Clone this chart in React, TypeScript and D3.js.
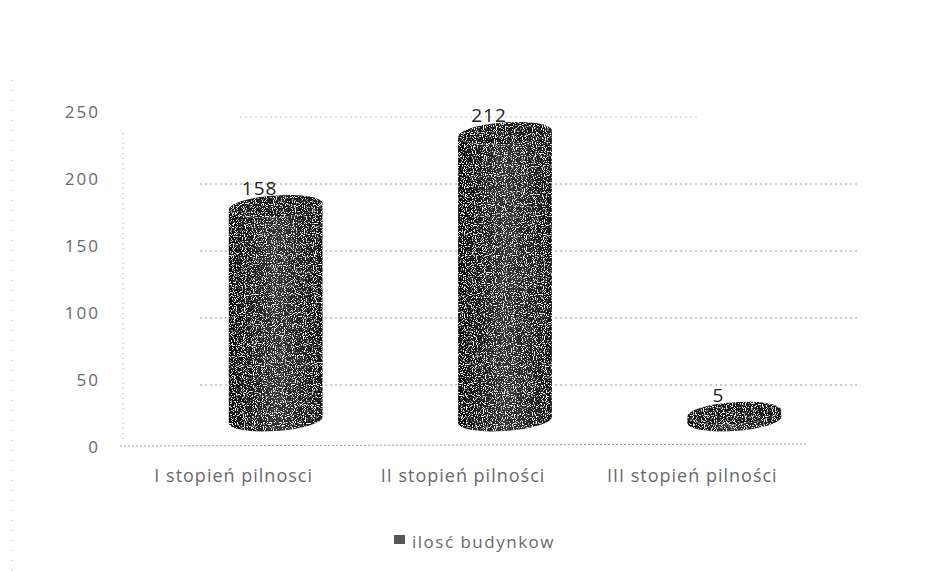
import * as d3 from "d3";

// values
const categories = ["I stopień pilnosci", "II stopień pilności", "III stopień pilności"];
const values = [158, 212, 5];
const yTicks = [0, 50, 100, 150, 200, 250];
const seriesName = "ilosć budynkow";

export default function App() {
  const width = 941;
  const height = 571;

  // back wall scale (ticks + gridlines)
  const yBack = d3.scaleLinear().domain([0, 250]).range([452, 117]);
  // front plane scale (cylinders sit in front of the wall, so they look taller)
  const yFront = d3.scaleLinear().domain([0, 250]).range([420, 82]);
  const x = d3.scaleBand().domain(categories).range([161, 849]).paddingInner(0);

  const rx = 47;
  const ry = 11;
  const tilt = -4; // ellipse tilt, degrees
  const dx = rx * Math.cos((tilt * Math.PI) / 180);
  const dy = rx * Math.sin((tilt * Math.PI) / 180);

  // upright cylinder body with slightly tilted end caps
  const body = (cx: number, yTop: number, yBot: number) =>
    `M${cx - dx},${yTop - dy} L${cx - dx},${yBot - dy} ` +
    `A${rx},${ry} ${tilt} 0 0 ${cx + dx},${yBot + dy} ` +
    `L${cx + dx},${yTop + dy} ` +
    `A${rx},${ry} ${tilt} 0 1 ${cx - dx},${yTop - dy} Z`;

  const textColor = "#6a6a6a";
  const font = "'Open Sans', 'Liberation Sans', sans-serif";

  return (
    <svg width={width} height={height} style={{ position: "absolute", left: 0, top: 0, background: "#fff" }}>
      <defs>
        <linearGradient id="body" x1="0" x2="1" y1="0" y2="0">
          <stop offset="0%" stopColor="#0a0a0a" />
          <stop offset="50%" stopColor="#363636" />
          <stop offset="100%" stopColor="#161616" />
        </linearGradient>
        <filter id="grain" x="0" y="0" width="100%" height="100%">
          <feTurbulence type="fractalNoise" baseFrequency="0.9" numOctaves="1" seed="4" result="noise" />
          <feColorMatrix
            in="noise"
            type="matrix"
            values="0 0 0 0 1  0 0 0 0 1  0 0 0 0 1  -9 0 0 0 4.1"
            result="dots"
          />
          <feComposite in="dots" in2="SourceGraphic" operator="in" result="clipped" />
          <feMerge>
            <feMergeNode in="SourceGraphic" />
            <feMergeNode in="clipped" />
          </feMerge>
        </filter>
      </defs>

      {/* scan edge on the left */}
      <line x1={12} x2={12} y1={80} y2={571} stroke="#bbb" strokeDasharray="1 9" />

      {/* gridlines on back wall */}
      {yTicks.filter(t => t > 0).map(t => (
        <line
          key={t}
          x1={t === 250 ? 240 : 200}
          x2={t === 250 ? 700 : 860}
          y1={yBack(t)}
          y2={yBack(t)}
          stroke={t === 250 ? "#c4c4c4" : "#9a9a9a"}
          strokeWidth={1}
          strokeDasharray="2 3"
        />
      ))}

      {/* left wall edge and floor */}
      <line x1={123} x2={123} y1={133} y2={442} stroke="#aaa" strokeDasharray="1 4" />
      <line x1={120} x2={808} y1={446} y2={444} stroke="#999" strokeDasharray="2 2" />

      {/* y tick labels */}
      {yTicks.map(t => (
        <text
          key={t}
          x={100}
          y={yBack(t) - 4}
          textAnchor="end"
          dominantBaseline="middle"
          fontFamily={font}
          fontSize={17}
          letterSpacing={2}
          fill={textColor}
        >
          {t}
        </text>
      ))}

      {/* cylinders */}
      {categories.map((c, i) => {
        const cx = x(c)! + x.bandwidth() / 2;
        const yTop = yFront(values[i]);
        const yBot = yFront(0);
        return (
          <g key={c} filter="url(#grain)">
            <path d={body(cx, yTop, yBot)} fill="url(#body)" />
            <ellipse
              cx={cx}
              cy={yTop}
              rx={rx}
              ry={ry}
              transform={`rotate(${tilt},${cx},${yTop})`}
              fill="#1e1e1e"
            />
          </g>
        );
      })}

      {/* data labels */}
      {categories.map((c, i) => {
        const cx = x(c)! + x.bandwidth() / 2;
        return (
          <text
            key={c}
            x={cx - 16}
            y={yFront(values[i]) - 11}
            textAnchor="middle"
            fontFamily={font}
            fontSize={19}
            letterSpacing={1}
            fill="#222"
          >
            {values[i]}
          </text>
        );
      })}

      {/* category labels */}
      {categories.map(c => (
        <text
          key={c}
          x={x(c)! + x.bandwidth() / 2 - 42}
          y={482}
          textAnchor="middle"
          fontFamily={font}
          fontSize={18}
          letterSpacing={1}
          fill={textColor}
        >
          {c}
        </text>
      ))}

      {/* legend */}
      <rect x={394} y={535} width={11} height={9} fill="#555" />
      <text x={412} y={548} fontFamily={font} fontSize={17} letterSpacing={1.5} fill={textColor}>
        {seriesName}
      </text>
    </svg>
  );
}
